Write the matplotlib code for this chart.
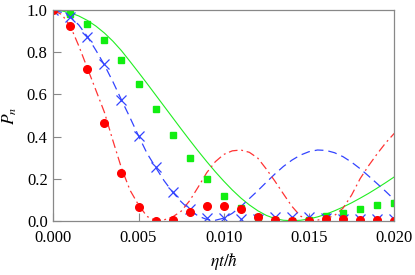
import numpy as np
import matplotlib
matplotlib.use("Agg")
import matplotlib.pyplot as plt

# sampled points (markers), every 0.001
t_pts = np.arange(21) * 0.001
red_pts = [1.0, 0.925, 0.722, 0.463, 0.227, 0.067, 0.0, 0.005, 0.043, 0.071, 0.071,
           0.054, 0.019, 0.002, 0.0, 0.0, 0.008, 0.006, 0.004, 0.001, 0.0]
green_pts = [1.0, 0.982, 0.935, 0.859, 0.762, 0.648, 0.531, 0.409, 0.296, 0.198, 0.119,
             0.060, 0.019, 0.005, 0.0, 0.003, 0.022, 0.038, 0.055, 0.076, 0.086]
blue_pts = [1.0, 0.970, 0.875, 0.743, 0.574, 0.403, 0.254, 0.136, 0.056, 0.011, 0.011,
            0.009, 0.010, 0.016, 0.018, 0.018, 0.014, 0.010, 0.008, 0.007, 0.007]

# curves, every 0.0005
t_line = np.arange(41) * 0.0005
red_line = [1.0, 0.98, 0.925, 0.83, 0.725, 0.62, 0.515, 0.38, 0.25, 0.145, 0.075,
            0.02, 0.001, 0.004, 0.018, 0.045, 0.095, 0.16, 0.228, 0.28, 0.315,
            0.332, 0.336, 0.325, 0.297, 0.245, 0.188, 0.127, 0.068, 0.022, 0.002,
            0.003, 0.01, 0.025, 0.06, 0.122, 0.20, 0.262, 0.318, 0.37, 0.415]
blue_line = [1.0, 0.99, 0.97, 0.93, 0.875, 0.81, 0.74, 0.66, 0.574, 0.49, 0.403,
             0.32, 0.254, 0.19, 0.136, 0.09, 0.052, 0.022, 0.006, 0.002, 0.012,
             0.035, 0.067, 0.105, 0.143, 0.183, 0.222, 0.258, 0.288, 0.312, 0.328,
             0.336, 0.334, 0.323, 0.304, 0.278, 0.247, 0.212, 0.176, 0.139, 0.10]
green_line = [1.0, 0.997, 0.988, 0.973, 0.952, 0.925, 0.892, 0.853, 0.808, 0.757, 0.705,
              0.652, 0.598, 0.544, 0.49, 0.436, 0.383, 0.331, 0.281, 0.233, 0.188,
              0.146, 0.108, 0.075, 0.047, 0.025, 0.010, 0.002, 0.0, 0.002, 0.008,
              0.018, 0.031, 0.047, 0.065, 0.085, 0.107, 0.13, 0.155, 0.181, 0.208]

plt.rcParams["font.family"] = ["Liberation Serif", "DejaVu Serif"]
plt.rcParams["mathtext.fontset"] = "stix"

fig = plt.figure(figsize=(4.15, 2.75), dpi=100)
ax = fig.add_axes([0.1284, 0.1975, 0.8216, 0.765])

ax.plot(t_line, green_line, color="#22ee22", linewidth=0.8)
ax.plot(t_line, blue_line, color="#3344ff", linewidth=0.9, dashes=(7, 4))
ax.plot(t_line, red_line, color="#ff3333", linewidth=0.9, dashes=(7, 3, 1.5, 3))

ax.plot(t_pts, green_pts, "s", color="#11ee11", markersize=4.5, linestyle="none")
ax.plot(t_pts, blue_pts, "x", color="#3344ff", markersize=6.5, markeredgewidth=0.9, linestyle="none")
ax.plot(t_pts, red_pts, "o", color="#ff0000", markersize=5.5, linestyle="none")

ax.set_xlim(0, 0.020)
ax.set_ylim(0, 1.0)
ax.set_xticks([0.000, 0.005, 0.010, 0.015, 0.020])
ax.set_xticklabels(["0.000", "0.005", "0.010", "0.015", "0.020"])
ax.set_yticks([0.0, 0.2, 0.4, 0.6, 0.8, 1.0])
ax.set_yticklabels(["0.0", "0.2", "0.4", "0.6", "0.8", "1.0"])
ax.tick_params(direction="in", length=6, width=0.8, color="#888888", labelsize=12)
ax.tick_params(axis="x", pad=7)
ax.tick_params(axis="y", pad=4)
for s in ax.spines.values():
    s.set_color("#888888")
    s.set_linewidth(0.9)

ax.set_xlabel(r"$\eta t/\hbar$", fontsize=12.5, labelpad=3)
ax.set_ylabel(r"$P_n$", fontsize=12.5, labelpad=6)

fig.savefig("out.png", dpi=100)
